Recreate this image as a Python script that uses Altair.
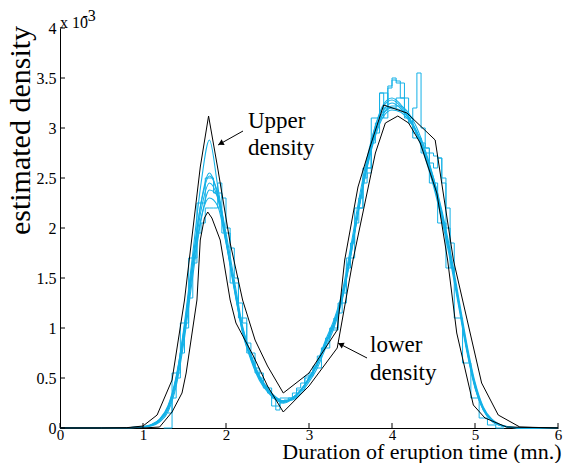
import altair as alt
import pandas as pd

# ---------------- data (y in units of 1e-3) ----------------
X_TICKS = [0, 1, 2, 3, 4, 5, 6]
Y_TICKS = [0, 0.5, 1, 1.5, 2, 2.5, 3, 3.5, 4]

GRID = [0.0, 0.5, 0.8, 0.9, 1.0, 1.1, 1.2, 1.3, 1.4, 1.5, 1.6, 1.7, 1.8, 1.9, 2.0,
        2.1, 2.2, 2.3, 2.4, 2.5, 2.6, 2.7, 2.8, 2.9, 3.0, 3.1, 3.2, 3.3, 3.4, 3.5,
        3.6, 3.7, 3.8, 3.9, 4.0, 4.1, 4.2, 4.3, 4.4, 4.5, 4.6, 4.7, 4.8, 4.9, 5.0,
        5.1, 5.2, 5.3, 5.4, 5.5, 5.6, 6.0]

cyan1 = [0, 0, 0.003, 0.006, 0.012, 0.03, 0.08, 0.2, 0.48, 0.98, 1.62, 2.18, 2.45, 2.3, 1.88,
         1.42, 0.97, 0.7, 0.5, 0.38, 0.29, 0.26, 0.3, 0.38, 0.5, 0.65, 0.86, 1.05, 1.33, 1.75,
         2.22, 2.65, 2.98, 3.18, 3.25, 3.2, 3.1, 2.95, 2.72, 2.45, 2.12, 1.72, 1.27, 0.8, 0.42,
         0.19, 0.08, 0.03, 0.012, 0.004, 0.001, 0]
cyan2 = [0, 0, 0.002, 0.005, 0.01, 0.025, 0.07, 0.18, 0.45, 0.95, 1.58, 2.1, 2.3, 2.22, 1.85,
         1.42, 1.0, 0.72, 0.52, 0.39, 0.3, 0.27, 0.29, 0.37, 0.48, 0.63, 0.83, 1.03, 1.3, 1.72,
         2.2, 2.66, 3.02, 3.24, 3.3, 3.24, 3.12, 2.96, 2.74, 2.47, 2.14, 1.74, 1.28, 0.82, 0.44,
         0.2, 0.08, 0.03, 0.01, 0.003, 0.001, 0]
cyan3 = [0, 0, 0.002, 0.004, 0.008, 0.02, 0.06, 0.16, 0.42, 0.9, 1.52, 2.08, 2.38, 2.32, 1.95,
         1.48, 1.02, 0.74, 0.53, 0.4, 0.31, 0.27, 0.28, 0.35, 0.46, 0.6, 0.8, 1.0, 1.28, 1.7,
         2.18, 2.6, 2.92, 3.12, 3.18, 3.16, 3.08, 2.95, 2.75, 2.5, 2.18, 1.78, 1.32, 0.85, 0.46,
         0.21, 0.09, 0.035, 0.013, 0.004, 0.001, 0]
cyan4 = [0, 0, 0.003, 0.007, 0.014, 0.035, 0.09, 0.22, 0.52, 1.02, 1.68, 2.25, 2.52, 2.35, 1.9,
         1.4, 0.95, 0.68, 0.48, 0.36, 0.28, 0.25, 0.29, 0.37, 0.5, 0.66, 0.88, 1.08, 1.36, 1.8,
         2.28, 2.7, 3.02, 3.22, 3.28, 3.22, 3.1, 2.93, 2.7, 2.42, 2.08, 1.68, 1.23, 0.77, 0.4,
         0.18, 0.07, 0.025, 0.01, 0.003, 0.001, 0]
cyan5 = [0, 0, 0.003, 0.006, 0.012, 0.03, 0.085, 0.21, 0.5, 1.0, 1.66, 2.26, 2.55, 2.32, 1.86,
         1.38, 0.96, 0.7, 0.5, 0.38, 0.3, 0.27, 0.3, 0.38, 0.5, 0.64, 0.84, 1.04, 1.3, 1.72,
         2.2, 2.62, 2.95, 3.15, 3.22, 3.22, 3.15, 3.0, 2.78, 2.5, 2.15, 1.74, 1.28, 0.8, 0.42,
         0.19, 0.08, 0.03, 0.011, 0.004, 0.001, 0]
cyan6 = [0, 0, 0.002, 0.005, 0.01, 0.03, 0.08, 0.2, 0.5, 1.05, 1.75, 2.45, 2.88, 2.42, 1.9,
         1.4, 0.98, 0.7, 0.5, 0.37, 0.29, 0.26, 0.3, 0.38, 0.5, 0.65, 0.85, 1.05, 1.32, 1.74,
         2.2, 2.62, 2.95, 3.15, 3.2, 3.18, 3.1, 2.96, 2.74, 2.46, 2.12, 1.72, 1.26, 0.79, 0.41,
         0.18, 0.07, 0.028, 0.01, 0.003, 0.001, 0]

stepA_x = [1.25, 1.35, 1.45, 1.55, 1.65, 1.75, 1.85, 1.95, 2.05, 2.15, 2.25, 2.35, 2.45, 2.55,
           2.65, 2.75, 2.85, 2.95, 3.05, 3.15, 3.25, 3.35, 3.45, 3.55, 3.65, 3.75, 3.85, 3.95,
           4.05, 4.15, 4.25, 4.35, 4.45, 4.55, 4.65, 4.75, 4.85, 4.95, 5.05, 5.15, 5.25, 5.35]
stepA_y = [0.0, 0.55, 1.05, 1.7, 2.25, 2.5, 2.35, 1.95, 1.45, 1.1, 0.75, 0.55, 0.4, 0.22,
           0.3, 0.3, 0.38, 0.52, 0.6, 0.8, 0.98, 1.25, 1.7, 2.2, 2.6, 3.1, 3.35, 3.2,
           3.3, 3.1, 2.9, 2.75, 2.45, 2.05, 1.6, 1.1, 0.65, 0.3, 0.1, 0.03, 0.0, 0.0]

stepB_x = [3.30, 3.35, 3.40, 3.45, 3.50, 3.55, 3.60, 3.65, 3.70, 3.75, 3.80, 3.85, 3.90, 3.95,
           4.00, 4.05, 4.10, 4.15, 4.20, 4.25, 4.30, 4.35, 4.40, 4.45, 4.50, 4.55, 4.60, 4.65, 4.70]
stepB_y = [1.0, 1.15, 1.35, 1.6, 1.85, 2.05, 2.3, 2.5, 2.55, 2.9, 3.05, 3.35, 3.1, 3.4,
           3.5, 3.45, 3.3, 3.15, 3.05, 3.2, 3.55, 3.0, 2.8, 2.65, 2.6, 2.7, 2.45, 2.0, 1.6]

stepC_x = [1.3, 1.35, 1.4, 1.45, 1.5, 1.55, 1.6, 1.65, 1.7, 1.75, 1.8, 1.85, 1.9, 1.95, 2.0,
           2.05, 2.1, 2.15, 2.2, 2.25, 2.3, 2.35, 2.4, 2.45, 2.5, 2.55, 2.6, 2.65, 2.7, 2.75,
           2.8, 2.85, 2.9, 2.95, 3.0, 3.05, 3.1, 3.15, 3.2, 3.25, 3.3]
stepC_y = [0.15, 0.3, 0.5, 0.75, 1.0, 1.3, 1.65, 1.95, 2.05, 2.2, 2.2, 2.2, 2.45, 2.3, 2.0,
           1.8, 1.5, 1.25, 1.05, 0.85, 0.7, 0.6, 0.5, 0.42, 0.35, 0.3, 0.18, 0.25, 0.28, 0.3,
           0.35, 0.4, 0.45, 0.5, 0.55, 0.62, 0.72, 0.8, 0.9, 1.0, 1.1]

stepD_x = [3.6, 3.65, 3.7, 3.75, 3.8, 3.85, 3.9, 3.95, 4.0, 4.05, 4.1, 4.15, 4.2, 4.25,
           4.3, 4.35, 4.4, 4.45, 4.5, 4.55, 4.6, 4.65, 4.7, 4.75]
stepD_y = [2.2, 2.45, 2.6, 2.85, 2.95, 3.1, 3.2, 3.42, 3.48, 3.47, 3.45, 3.3, 3.1, 2.95,
           2.9, 2.85, 2.8, 2.75, 2.72, 2.7, 2.5, 2.2, 1.85, 1.5]

upper_x = [0.0, 0.5, 0.8, 1.0, 1.17, 1.35, 1.5, 1.69, 1.79, 1.9, 2.05, 2.2, 2.35, 2.5, 2.69,
           3.0, 3.34, 3.43, 3.59, 3.75, 3.9, 4.18, 4.52, 4.74, 4.9, 5.08, 5.28, 5.54, 6.0]
upper_y = [0, 0, 0.003, 0.02, 0.13, 0.48, 1.28, 2.61, 3.12, 2.6, 1.85, 1.28, 0.88, 0.62, 0.35,
           0.55, 0.98, 1.68, 2.41, 2.85, 3.23, 3.15, 2.88, 1.68, 1.1, 0.45, 0.13, 0.01, 0]

lower_x = [0.0, 1.0, 1.2, 1.35, 1.47, 1.52, 1.65, 1.69, 1.74, 1.78, 1.83, 1.93, 2.05, 2.12,
           2.33, 2.5, 2.69, 3.0, 3.34, 3.53, 3.8, 3.92, 4.07, 4.2, 4.34, 4.54, 4.67, 4.78,
           4.98, 5.12, 5.38, 6.0]
lower_y = [0, 0, 0.01, 0.16, 0.35, 0.55, 1.28, 1.88, 2.1, 2.16, 2.1, 1.88, 1.28, 1.05,
           0.72, 0.42, 0.16, 0.42, 0.8, 1.68, 2.75, 3.05, 3.12, 3.05, 2.85, 2.35, 1.68, 0.95,
           0.23, 0.1, 0.01, 0]

ANN_TEXT = ["Upper", "density", "lower", "density"]
ANN_X = [2.265, 2.265, 3.735, 3.735]
ANN_Y = [3.0, 2.73, 0.76, 0.48]

ARROW_X = [2.205, 3.699]
ARROW_Y = [2.97, 0.70]
ARROW_X2 = [1.904, 3.349]
ARROW_Y2 = [2.83, 0.85]
HEAD_X = [1.946, 3.392]
HEAD_Y = [2.85, 0.832]
HEAD_ANGLE = [241, 297]

EXP_TEXT = ["x 10", "-3"]
EXP_X = [0.0, 0.27]
EXP_Y = [4.0, 4.07]

# ---------------- tables ----------------
smooth_rows = []
for name, ys in [("c1", cyan1), ("c2", cyan2), ("c3", cyan3), ("c4", cyan4), ("c5", cyan5), ("c6", cyan6)]:
    for xv, yv in zip(GRID, ys):
        smooth_rows.append({"x": xv, "y": yv, "s": name})
smooth_df = pd.DataFrame(smooth_rows)

step_rows = []
for name, xs, ys in [("A", stepA_x, stepA_y), ("B", stepB_x, stepB_y), ("C", stepC_x, stepC_y), ("D", stepD_x, stepD_y)]:
    for xv, yv in zip(xs, ys):
        step_rows.append({"x": xv, "y": yv, "s": name})
step_df = pd.DataFrame(step_rows)

black_rows = []
for name, xs, ys in [("upper", upper_x, upper_y), ("lower", lower_x, lower_y)]:
    for xv, yv in zip(xs, ys):
        black_rows.append({"x": xv, "y": yv, "s": name})
black_df = pd.DataFrame(black_rows)

ann_df = pd.DataFrame({"x": ANN_X, "y": ANN_Y, "t": ANN_TEXT})
arrow_df = pd.DataFrame({"x": ARROW_X, "y": ARROW_Y, "x2": ARROW_X2, "y2": ARROW_Y2})
head_df = pd.DataFrame({"x": HEAD_X, "y": HEAD_Y, "a": HEAD_ANGLE})
exp_df = pd.DataFrame({"x": EXP_X, "y": EXP_Y, "t": EXP_TEXT})
xt_df = pd.DataFrame({"x": X_TICKS})
yt_df = pd.DataFrame({"y": Y_TICKS})

# ---------------- encodings ----------------
FONT = "Liberation Serif"
CYAN = "#14b1e7"

x_scale = alt.Scale(domain=[0, 6], nice=False, zero=False)
y_scale = alt.Scale(domain=[0, 4], nice=False, zero=False)

x_axis = alt.Axis(values=X_TICKS, format="d", ticks=False, grid=False, domainColor="black",
                  labelFont=FONT, labelFontSize=15, labelColor="black", labelPadding=-1,
                  labelFlush=False, labelOverlap=False,
                  title="Duration of eruption time (mn.)", titleFont=FONT, titleFontSize=22,
                  titleFontWeight="normal", titleColor="black", titleX=501, titleY=30,
                  titleAlign="right", titleBaseline="alphabetic")
y_axis = alt.Axis(values=Y_TICKS, format="~g", ticks=False, grid=False, domainColor="black",
                  labelFont=FONT, labelFontSize=16, labelColor="black", labelPadding=4,
                  labelFlush=False, labelOverlap=False,
                  title="estimated density", titleFont=FONT, titleFontSize=30,
                  titleFontWeight="normal", titleColor="black", titleAngle=270,
                  titleX=-40, titleY=102, titleAlign="center", titleBaseline="middle")

X = alt.X("x:Q", scale=x_scale, axis=x_axis)
Y = alt.Y("y:Q", scale=y_scale, axis=y_axis)

smooth = alt.Chart(smooth_df).mark_line(color=CYAN, strokeWidth=1.1, interpolate="monotone").encode(
    x=X, y=Y, detail="s:N")
steps = alt.Chart(step_df).mark_line(color=CYAN, strokeWidth=1, interpolate="step-after").encode(
    x=X, y=Y, detail="s:N")
black = alt.Chart(black_df).mark_line(color="black", strokeWidth=1).encode(
    x=X, y=Y, detail="s:N")

xticks = alt.Chart(xt_df).mark_rule(color="black", strokeWidth=1).encode(
    x=X, y=alt.value(400), y2=alt.value(395))
yticks = alt.Chart(yt_df).mark_rule(color="black", strokeWidth=1).encode(
    y=Y, x=alt.value(0), x2=alt.value(5))

ann = alt.Chart(ann_df).mark_text(align="left", baseline="alphabetic", font=FONT, fontSize=23,
                                  color="black").encode(x=X, y=Y, text="t:N")
arrows = alt.Chart(arrow_df).mark_rule(color="black", strokeWidth=1).encode(
    x=X, y=Y, x2="x2:Q", y2="y2:Q")
heads = alt.Chart(head_df).mark_point(shape="triangle", filled=True, size=40, color="black",
                                      opacity=1).encode(
    x=X, y=Y, angle=alt.Angle("a:Q", scale=None))
expo = alt.Chart(exp_df).mark_text(align="left", baseline="alphabetic", font=FONT, fontSize=16,
                                   color="black").encode(x=X, y=Y, text="t:N")

chart = alt.layer(smooth, steps, black, xticks, yticks, arrows, heads, ann, expo).properties(
    width=498, height=400, autosize="none",
    padding={"left": 60, "top": 28, "right": 12, "bottom": 35},
    background="white",
).configure_view(stroke=None)

chart.save("out.html", embed_options={"renderer": "svg", "actions": False})
